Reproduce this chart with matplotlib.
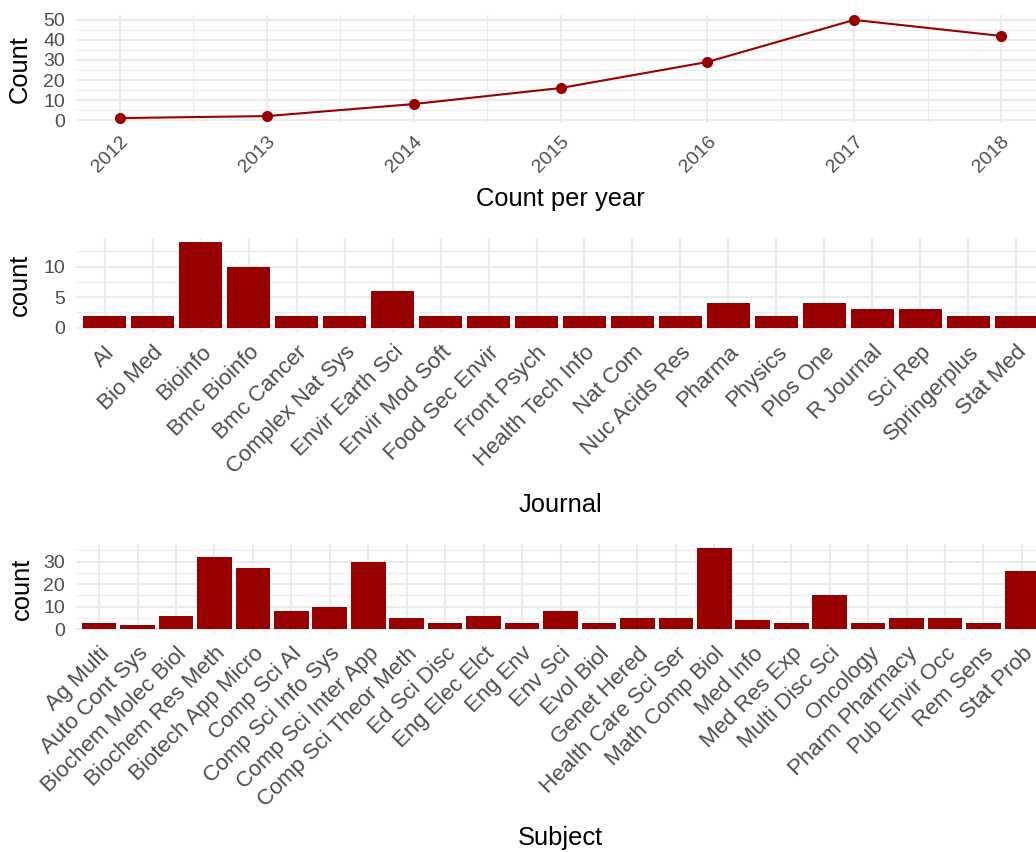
import matplotlib
matplotlib.use("Agg")
import matplotlib.pyplot as plt
import numpy as np

# data
years = [2012, 2013, 2014, 2015, 2016, 2017, 2018]
year_counts = [1, 2, 8, 16, 29, 50, 42]

journals = ["AI", "Bio Med", "Bioinfo", "Bmc Bioinfo", "Bmc Cancer", "Complex Nat Sys",
            "Envir Earth Sci", "Envir Mod Soft", "Food Sec Envir", "Front Psych",
            "Health Tech Info", "Nat Com", "Nuc Acids Res", "Pharma", "Physics",
            "Plos One", "R Journal", "Sci Rep", "Springerplus", "Stat Med"]
journal_counts = [2, 2, 14, 10, 2, 2, 6, 2, 2, 2, 2, 2, 2, 4, 2, 4, 3, 3, 2, 2]

subjects = ["Ag Multi", "Auto Cont Sys", "Biochem Molec Biol", "Biochem Res Meth",
            "Biotech App Micro", "Comp Sci AI", "Comp Sci Info Sys", "Comp Sci Inter App",
            "Comp Sci Theor Meth", "Ed Sci Disc", "Eng Elec Elct", "Eng Env", "Env Sci",
            "Evol Biol", "Genet Hered", "Health Care Sci Ser", "Math Comp Biol", "Med Info",
            "Med Res Exp", "Multi Disc Sci", "Oncology", "Pharm Pharmacy", "Pub Envir Occ",
            "Rem Sens", "Stat Prob"]
subject_counts = [3, 2, 6, 32, 27, 8, 10, 30, 5, 3, 6, 3, 8, 3, 5, 5, 36, 4, 3, 15,
                  3, 5, 5, 3, 26]

RED = "#990000"
GRID = "#EBEBEB"
TICK = "#4D4D4D"
TITLE_SIZE = 18.4

plt.rcParams["font.family"] = ["Liberation Sans", "DejaVu Sans"]

W, H = 1036, 852
fig = plt.figure(figsize=(W / 100, H / 100), dpi=100)


def add_panel(left, top, right, bottom):
    # pixel box -> figure fraction (the original was wider, so right edge runs off)
    return fig.add_axes([left / W, 1 - bottom / H, (right - left) / W, (bottom - top) / H])


def style(ax, xsize=14):
    for s in ax.spines.values():
        s.set_visible(False)
    ax.set_axisbelow(True)
    ax.grid(which="major", color=GRID, lw=1.5)
    ax.grid(which="minor", color=GRID, lw=0.8)
    ax.tick_params(which="both", length=0, labelsize=14, labelcolor=TICK)
    ax.tick_params(axis="y", pad=8)
    ax.tick_params(axis="x", pad=7, labelsize=xsize)


def rotate_labels(ax):
    for lab in ax.get_xticklabels():
        lab.set_rotation(45)
        lab.set_ha("right")
        lab.set_va("top")
        lab.set_rotation_mode("anchor")


# --- count per year
ax1 = add_panel(76, 15, 1045, 123)
ax1.plot(years, year_counts, color=RED, lw=1.5, marker="o", ms=7)
ax1.set_xlim(2011.7, 2018.3)
ax1.set_ylim(-1.45, 52.45)
ax1.set_xticks(years)
ax1.set_xticks(np.arange(2012.5, 2018, 1), minor=True)
ax1.set_yticks(range(0, 51, 10))
ax1.set_yticks(range(5, 50, 10), minor=True)
style(ax1)
rotate_labels(ax1)
ax1.set_xlabel("Count per year", fontsize=TITLE_SIZE, va="center")
ax1.xaxis.set_label_coords(0.5, -0.704)
ax1.set_ylabel("Count", fontsize=TITLE_SIZE, va="center")
ax1.yaxis.set_label_coords(-0.058, 0.5)

# --- journal
ax2 = add_panel(76, 238, 1045, 332)
xj = np.arange(len(journals))
ax2.bar(xj, journal_counts, width=0.9, color=RED)
ax2.set_xlim(-0.6, len(journals) - 0.4)
ax2.set_ylim(-0.7, 14.7)
ax2.set_xticks(xj)
ax2.set_xticklabels(journals)
ax2.set_yticks([0, 5, 10])
ax2.set_yticks([2.5, 7.5, 12.5], minor=True)
style(ax2, xsize=16)
ax2.grid(which="minor", axis="x", visible=False)
rotate_labels(ax2)
ax2.set_xlabel("Journal", fontsize=TITLE_SIZE, va="center")
ax2.xaxis.set_label_coords(0.5, -1.84)
ax2.set_ylabel("count", fontsize=TITLE_SIZE, va="center")
ax2.yaxis.set_label_coords(-0.058, 0.5)

# --- subject
ax3 = add_panel(76, 544, 1045, 633.4)
xs = np.arange(len(subjects))
ax3.bar(xs, subject_counts, width=0.9, color=RED)
ax3.set_xlim(-0.6, len(subjects) - 0.4)
ax3.set_ylim(-1.8, 37.8)
ax3.set_xticks(xs)
ax3.set_xticklabels(subjects)
ax3.set_yticks([0, 10, 20, 30])
ax3.set_yticks([5, 15, 25, 35], minor=True)
style(ax3, xsize=16)
rotate_labels(ax3)
ax3.set_xlabel("Subject", fontsize=TITLE_SIZE, va="center")
ax3.xaxis.set_label_coords(0.5, -2.289)
ax3.set_ylabel("count", fontsize=TITLE_SIZE, va="center")
ax3.yaxis.set_label_coords(-0.056, 0.5)

fig.savefig("out.png", dpi=100)
